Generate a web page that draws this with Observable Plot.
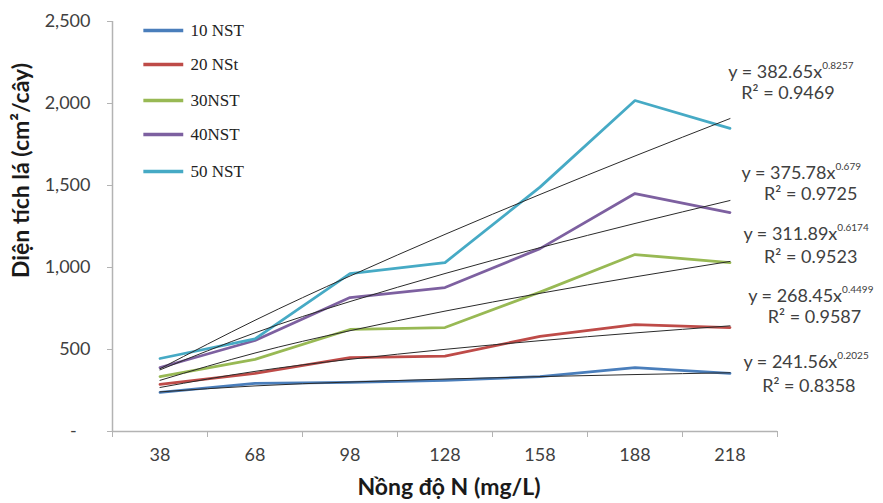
<!DOCTYPE html>
<html>
<head>
<meta charset="utf-8">
<script src="https://cdn.jsdelivr.net/npm/d3@7"></script>
<script src="https://cdn.jsdelivr.net/npm/@observablehq/plot@0.6"></script>
<style>
  html, body { margin: 0; padding: 0; background: #fff; }
  #chart { width: 883px; height: 503px; }
</style>
</head>
<body>
<div id="chart"></div>
<script>
// ---- Data ----
const categories = ["38", "68", "98", "128", "158", "188", "218"]; // Nồng độ N (mg/L)
const seriesNames = ["10 NST", "20 NSt", "30NST", "40NST", "50 NST"];
const s10NST = [238, 293, 299, 311, 335, 390, 354];
const s20NSt = [287, 354, 451, 460, 580, 652, 634];
const s30NST = [335, 440, 622, 634, 850, 1079, 1030];
const s40NST = [390, 555, 817, 878, 1115, 1451, 1335];
const s50NST = [445, 565, 963, 1030, 1490, 2018, 1848];
const seriesValues = [s10NST, s20NSt, s30NST, s40NST, s50NST];

// Power trendlines printed on the chart: y = a * x^b (x = category index 1..7)
const trendA = [241.56, 268.45, 311.89, 375.78, 382.65];
const trendB = [0.2025, 0.4499, 0.6174, 0.679, 0.8257];
const trendR2 = ["0.8358", "0.9587", "0.9523", "0.9725", "0.9469"];
const trendAText = ["241.56", "268.45", "311.89", "375.78", "382.65"];
const trendBText = ["0.2025", "0.4499", "0.6174", "0.679", "0.8257"];

const yTicks = [0, 500, 1000, 1500, 2000, 2500];

// ---- Layout (annotation anchors, in data units) ----
const colors = ["#4A7EBB", "#BE4B48", "#98B954", "#7D60A0", "#46AAC5"];
const eqEndX = [8.13, 8.18, 8.13, 8.11, 7.97];
const eqY = [421, 823, 1201, 1573, 2189];
const r2X = [7.83, 7.89, 7.85, 7.85, 7.61];
const r2Y = [274, 695, 1061, 1445, 2061];
const legendY = [2445, 2238, 2018, 1811, 1585];

// ---- Build tables ----
const rows = [];
seriesNames.forEach((name, s) => {
  seriesValues[s].forEach((v, i) => rows.push({series: name, x: i + 1, value: v}));
});
const trendRows = [];
seriesNames.forEach((name, s) => {
  categories.forEach((c, i) => trendRows.push({series: name, x: i + 1, value: trendA[s] * Math.pow(i + 1, trendB[s])}));
});
const eqRows = seriesNames.map((name, s) => ({
  series: name,
  main: `y = ${trendAText[s]}x`,
  sup: trendBText[s],
  r2: `R² = ${trendR2[s]}`,
  ex: eqEndX[s], ey: eqY[s], rx: r2X[s], ry: r2Y[s]
}));
const legendRows = seriesNames.map((name, s) => ({series: name, y: legendY[s]}));
const catIdx = categories.map((c, i) => i + 1);
const bounds = d3.range(0, categories.length + 1).map(i => i + 0.5);

const sansFont = "Lato, 'Open Sans', sans-serif";
const axisGray = "#b3b3b3";
const textGray = "#404040";

const chart = Plot.plot({
  width: 883,
  height: 503,
  marginLeft: 112,
  marginRight: 106,
  marginTop: 21,
  marginBottom: 72,
  style: {fontFamily: sansFont, background: "#fff", overflow: "visible"},
  x: {domain: [0.5, categories.length + 0.5]},
  y: {domain: [0, 2500]},
  color: {domain: seriesNames, range: colors},
  marks: [
    // axes
    Plot.ruleX([0.5], {y1: 0, y2: 2500, stroke: axisGray, strokeWidth: 1.5}),
    Plot.ruleY([0], {stroke: axisGray, strokeWidth: 1.5}),
    Plot.axisY({ticks: yTicks, tickFormat: d => d === 0 ? "-\u00a0\u00a0\u00a0" : d3.format(",")(d),
      tickSize: 5, tickPadding: 17, fontSize: 18, stroke: axisGray, fill: textGray, label: null}),
    Plot.axisX({ticks: bounds, tickFormat: () => "", tickSize: 6, stroke: axisGray, label: null}),
    Plot.axisX({ticks: catIdx, tickFormat: i => categories[i - 1], tickSize: 0, tickPadding: 17,
      fontSize: 18, fill: textGray, label: null}),
    // data lines
    Plot.line(rows, {x: "x", y: "value", z: "series", stroke: "series", strokeWidth: 2.75}),
    // trendlines
    Plot.line(trendRows, {x: "x", y: "value", z: "series", stroke: "#2b2b2b", strokeWidth: 1, curve: "natural"}),
    // equations
    Plot.text(eqRows, {x: "ex", y: "ey", text: "main", textAnchor: "end", fontSize: 18, fill: textGray}),
    Plot.text(eqRows, {x: "ex", y: "ey", text: "sup", textAnchor: "start", fontSize: 10, dy: -7, fill: textGray}),
    Plot.text(eqRows, {x: "rx", y: "ry", text: "r2", fontSize: 18, fill: textGray}),
    // legend
    Plot.ruleY(legendRows, {y: "y", x1: 0.83, x2: 1.25, stroke: "series", strokeWidth: 3.5}),
    Plot.text(legendRows, {x: 1.32, y: "y", text: "series", textAnchor: "start",
      fontFamily: "'Liberation Serif', serif", fontSize: 17, fill: "#222"}),
    // axis titles
    Plot.text(["Diện tích lá (cm²/cây)"], {frameAnchor: "left", textAnchor: "middle", lineAnchor: "middle",
      dx: -91, dy: -56, rotate: -90, fontWeight: "bold", fontSize: 23, fill: "#1a1a1a"}),
    Plot.text(["Nồng độ N (mg/L)"], {frameAnchor: "bottom", textAnchor: "middle", lineAnchor: "middle",
      dx: 4, dy: 56, fontWeight: "bold", fontSize: 23, fill: "#1a1a1a"})
  ]
});
document.getElementById("chart").appendChild(chart);
</script>
</body>
</html>
